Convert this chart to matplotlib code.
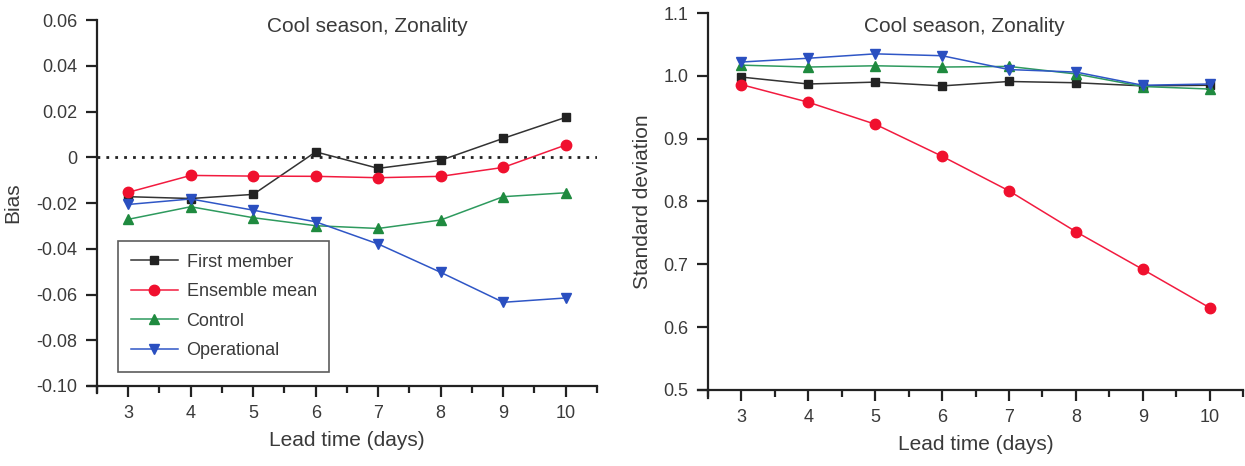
import matplotlib.pyplot as plt
from matplotlib.ticker import MultipleLocator

plt.rcParams['font.family'] = ['Liberation Sans', 'DejaVu Sans']

lead_days = [3, 4, 5, 6, 7, 8, 9, 10]

# bias, cool season zonality
bias_first = [-0.0172, -0.0180, -0.0162, 0.0024, -0.0048, -0.0013, 0.0083, 0.0175]
bias_ensmean = [-0.0153, -0.0079, -0.0082, -0.0083, -0.0089, -0.0083, -0.0044, 0.0054]
bias_control = [-0.0271, -0.0216, -0.0264, -0.0299, -0.0311, -0.0274, -0.0172, -0.0155]
bias_oper = [-0.0206, -0.0182, -0.0231, -0.0282, -0.0379, -0.0503, -0.0634, -0.0615]

# standard deviation
sd_first = [0.998, 0.987, 0.990, 0.984, 0.991, 0.989, 0.984, 0.985]
sd_ensmean = [0.986, 0.958, 0.923, 0.872, 0.817, 0.752, 0.692, 0.631]
sd_control = [1.017, 1.014, 1.016, 1.014, 1.015, 1.003, 0.983, 0.979]
sd_oper = [1.022, 1.028, 1.035, 1.032, 1.010, 1.006, 0.985, 0.987]

names = ['First member', 'Ensemble mean', 'Control', 'Operational']
colors = ['#333333', '#f21b3f', '#2e9a5e', '#2f56c6']
mcolors = ['#222222', '#f0102e', '#1f8a3f', '#2a4fc0']
markers = ['s', 'o', '^', 'v']
msizes = [5.5, 7.5, 7.5, 7.5]

txt = '#3a3a3a'

fig = plt.figure(figsize=(12.45, 4.66), dpi=100)
ax1 = fig.add_axes([0.0779, 0.1717, 0.4016, 0.785])
ax2 = fig.add_axes([0.5687, 0.1631, 0.4297, 0.809])

for ax, series in [(ax1, [bias_first, bias_ensmean, bias_control, bias_oper]),
                   (ax2, [sd_first, sd_ensmean, sd_control, sd_oper])]:
    for vals, name, c, mc, m, ms in zip(series, names, colors, mcolors, markers, msizes):
        ax.plot(lead_days, vals, color=c, lw=1.1, marker=m, ms=ms,
                mfc=mc, mec=mc, label=name, zorder=3)
    ax.set_xlim(2.5, 10.5)
    ax.xaxis.set_major_locator(MultipleLocator(1))
    ax.xaxis.set_minor_locator(MultipleLocator(0.5))
    for s in ['top', 'right']:
        ax.spines[s].set_visible(False)
    for s in ['left', 'bottom']:
        ax.spines[s].set_linewidth(1.6)
        ax.spines[s].set_color('#222222')
    ax.tick_params(which='major', direction='out', length=8, width=1.6,
                   labelsize=13, labelcolor=txt, color='#222222', pad=6)
    ax.tick_params(which='minor', direction='out', length=5, width=1.6,
                   color='#222222')
    ax.tick_params(axis='y', which='minor', left=False)
    ax.set_xlabel('Lead time (days)', fontsize=15, color=txt, labelpad=6)
    # axis lines poke past the corner
    ax.plot([-0.018, 0], [0, 0], transform=ax.transAxes, color='#222222',
            lw=1.6, clip_on=False)
    ax.plot([0, 0], [-0.02, 0], transform=ax.transAxes, color='#222222',
            lw=1.6, clip_on=False)

ax1.set_ylim(-0.10, 0.06)
ax1.set_yticks([0.06, 0.04, 0.02, 0, -0.02, -0.04, -0.06, -0.08, -0.10])
ax1.set_yticklabels(['0.06', '0.04', '0.02', '0', '-0.02', '-0.04', '-0.06', '-0.08', '-0.10'])
ax1.axhline(0, color='#222222', lw=2, ls=(0, (1, 2.2)), zorder=1)
ax1.set_ylabel('Bias', fontsize=15, color=txt, labelpad=10)
ax1.text(0.54, 1.01, 'Cool season, Zonality', transform=ax1.transAxes,
         ha='center', va='top', fontsize=15, color=txt)
leg = ax1.legend(loc='lower left', bbox_to_anchor=(0.042, 0.038), borderaxespad=0,
                 fontsize=13, frameon=True, fancybox=False, handlelength=2.6,
                 borderpad=0.7, labelspacing=0.7, handletextpad=0.5)
leg.get_frame().set_edgecolor('#333333')
leg.get_frame().set_linewidth(1.2)
for t in leg.get_texts():
    t.set_color(txt)

ax2.set_ylim(0.5, 1.1)
ax2.set_yticks([0.5, 0.6, 0.7, 0.8, 0.9, 1.0, 1.1])
ax2.set_yticklabels(['0.5', '0.6', '0.7', '0.8', '0.9', '1.0', '1.1'])
ax2.set_ylabel('Standard deviation', fontsize=15, color=txt, labelpad=8)
ax2.text(0.48, 0.99, 'Cool season, Zonality', transform=ax2.transAxes,
         ha='center', va='top', fontsize=15, color=txt)

fig.savefig('out.png', dpi=100)
